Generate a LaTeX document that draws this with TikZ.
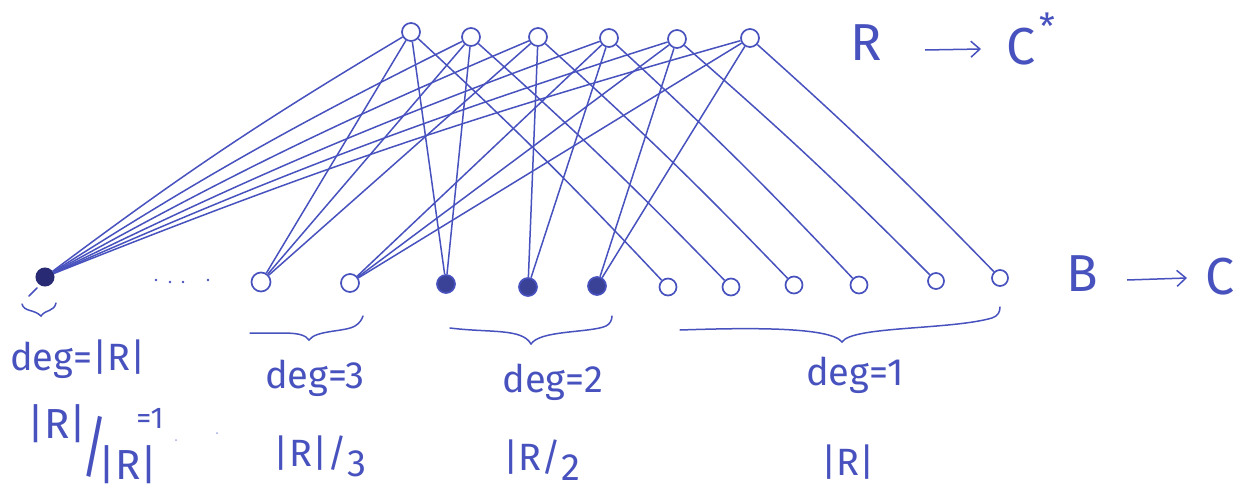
\documentclass[tikz,border=0pt]{standalone}
\usepackage{fontspec}
\usepackage{graphicx}
\setmainfont{Fira Sans}
\usetikzlibrary{arrows.meta}
\definecolor{ink}{RGB}{72,82,190}
\definecolor{inkdark}{RGB}{40,42,115}
\begin{document}
\begin{tikzpicture}[x=1pt,y=-1pt,
  edge/.style={ink, line width=1.5pt},
  topv/.style={circle, draw=ink, line width=1.7pt, minimum size=18pt, inner sep=0pt},
  openv/.style={circle, draw=ink, line width=1.7pt, minimum size=18pt, inner sep=0pt},
  fullv/.style={circle, draw=ink, fill=ink!80!black, line width=1.7pt, minimum size=18pt, inner sep=0pt},
  darkv/.style={circle, draw=inkdark, fill=inkdark, line width=1pt, minimum size=18pt, inner sep=0pt},
  hand/.style={text=ink, inner sep=0pt, font=\fontsize{38}{40}\selectfont},
  big/.style={text=ink, inner sep=0pt, font=\fontsize{52}{54}\selectfont},
  penstroke/.style={ink, line width=1.5pt, line cap=round},
  arr/.style={ink, line width=1.5pt, -{Straight Barb[length=9pt,width=16pt]}},
  ]
\path[use as bounding box, fill=white] (0,0) rectangle (1237,490);

% top vertices R
\node[topv] (r1) at (411,32) {};
\node[topv] (r2) at (471,37) {};
\node[topv] (r3) at (538,37) {};
\node[topv] (r4) at (609,38) {};
\node[topv] (r5) at (677,39) {};
\node[topv] (r6) at (750,38) {};

% bottom vertices B
\node[darkv] (b0) at (45,277) {};
\node[openv, minimum size=19pt] (b1) at (261,282) {};
\node[openv] (b2) at (350,283) {};
\node[fullv] (b3) at (446,284) {};
\node[fullv] (b4) at (528,287) {};
\node[fullv] (b5) at (597,286) {};
\node[openv, minimum size=17pt] (b6) at (668,287) {};
\node[openv, minimum size=17pt] (b7) at (731,287) {};
\node[openv, minimum size=17pt] (b8) at (794,285) {};
\node[openv, minimum size=17pt] (b9) at (859,285) {};
\node[openv, minimum size=16pt] (b10) at (936,281) {};
\node[openv, minimum size=16pt] (b11) at (1000,278) {};

% edges to the vertex of degree |R|
\foreach \r in {r1,r2,r3,r4,r5,r6}
  \draw[edge] (b0) to[bend left=3] (\r);

% degree 3
\draw[edge] (b1) -- (r1);
\draw[edge] (b1) -- (r2);
\draw[edge] (b1) -- (r3);
\draw[edge] (b2) -- (r4);
\draw[edge] (b2) -- (r5);
\draw[edge] (b2) -- (r6);

% degree 2
\draw[edge] (b3) -- (r1);
\draw[edge] (b3) -- (r2);
\draw[edge] (b4) -- (r3);
\draw[edge] (b4) -- (r4);
\draw[edge] (b5) -- (r5);
\draw[edge] (b5) -- (r6);

% degree 1
\draw[edge] (r1) to[bend left=2] (b6);
\draw[edge] (r2) to[bend left=2] (b7);
\draw[edge] (r3) to[bend left=2] (b8);
\draw[edge] (r4) to[bend left=2] (b9);
\draw[edge] (r5) to[bend left=2] (b10);
\draw[edge] (r6) to[bend left=2] (b11);

% small stroke and brace under the degree-|R| vertex
\draw[penstroke] (37,288) -- (29,296);
\draw[penstroke] (22,304) .. controls (24,312) and (34,309) .. (41,316)
                     .. controls (46,309) and (54,312) .. (56,303);

% dots
\foreach \x/\y in {156/280,170/282,183/282,208/280}
  \fill[ink] (\x,\y) circle (1.4pt);
\foreach \x/\y in {176/440,217/433}
  \fill[ink!50] (\x,\y) circle (1pt);

% braces
\draw[penstroke] (250,333) .. controls (280,334) and (302,330) .. (309,340)
            .. controls (316,330) and (345,332) .. (355,326)
            .. controls (360,323) and (362,319) .. (363,316);
\draw[penstroke] (450,328) .. controls (490,333) and (522,328) .. (531,344)
            .. controls (540,330) and (590,333) .. (606,326)
            .. controls (610,324) and (612,320) .. (612,316);
\draw[penstroke] (680,330) .. controls (740,328) and (830,326) .. (842,342)
            .. controls (852,326) and (950,330) .. (992,318)
            .. controls (998,316) and (1000,312) .. (1000,307);

% labels
\node[hand] (l0) at (78,359) {deg=|R|};
\node[hand, font=\fontsize{42}{44}\selectfont] (f0a) at (57,424) {|R|};
\node[hand, font=\fontsize{42}{42}\selectfont] (f0s) at (95,447) {\scalebox{1.2}[1.6]{/}};
\node[hand, font=\fontsize{30}{30}\selectfont] (f0e) at (150,418) {=1};
\node[hand, font=\fontsize{42}{44}\selectfont] (f0b) at (128,465) {|R|};

\node[hand] (l3) at (315,378) {deg=3};
\node[hand] (f3) at (320,456) {|R|/\raisebox{-10pt}{3}};

\node[hand] (l2) at (553,382) {deg=2};
\node[hand] (f2) at (542,460) {|R/\raisebox{-10pt}{2}};

\node[hand] (l1) at (855,375) {deg=1};
\node[hand] (f1) at (848,462) {|R|};

% R -> C*
\node[big] (R) at (866,43) {R};
\coordinate (ra) at (925,50);
\coordinate (rb) at (981,49);
\draw[arr] (ra) -- (rb);
\node[big] (Cs) at (1021,47) {C};
\node[hand, font=\fontsize{36}{36}\selectfont] (star) at (1047,26) {*};

% B -> C
\node[big] (B) at (1082,274) {B};
\coordinate (ba) at (1127,280);
\coordinate (bb) at (1187,278);
\draw[arr] (ba) -- (bb);
\node[big] (C) at (1220,277) {C};
\end{tikzpicture}
\end{document}
